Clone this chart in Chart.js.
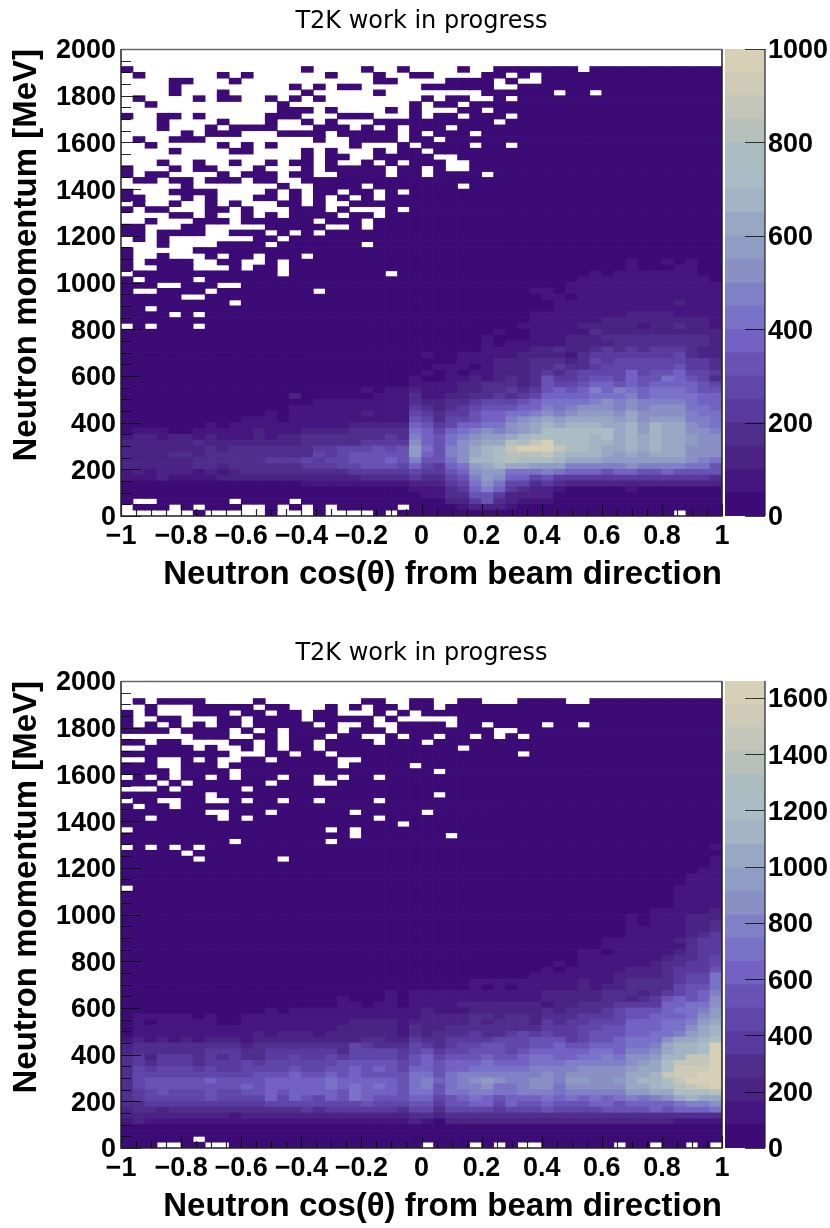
<!DOCTYPE html>
<html><head><meta charset="utf-8">
<script src="https://cdn.jsdelivr.net/npm/chart.js@4"></script>
<style>
html,body{margin:0;padding:0;background:#fff;overflow:hidden;width:830px;height:1228px}
canvas{position:absolute}
#p1{left:0;top:0}#c1{left:725px;top:0}
#p2{left:0;top:632px}#c2{left:725px;top:632px}
</style></head><body>
<canvas id="p1" width="850" height="596" style="width:850px;height:596px"></canvas>
<canvas id="c1" width="105" height="596" style="width:105px;height:596px"></canvas>
<canvas id="p2" width="850" height="596" style="width:850px;height:596px"></canvas>
<canvas id="c2" width="105" height="596" style="width:105px;height:596px"></canvas>
<script>
const xTickValues=[-1,-0.8,-0.6,-0.4,-0.2,0,0.2,0.4,0.6,0.8,1];
const xTickLabels=["\u22121","\u22120.8","\u22120.6","\u22120.4","\u22120.2","0","0.2","0.4","0.6","0.8","1"];
const yTickValues=[0,200,400,600,800,1000,1200,1400,1600,1800,2000];
const topZTicks=[0,200,400,600,800,1000];
const bottomZTicks=[0,200,400,600,800,1000,1200,1400,1600];
const topZMax=1000, bottomZMax=1660;
const chartTitle="T2K work in progress";
const xTitle="Neutron cos(\u03b8) from beam direction";
const yTitle="Neutron momentum [MeV]";
const palette=["#3d0b75","#461680","#4a2385","#4f2e8e","#5a3a9e","#5f46a8","#6853b4","#7362c3","#7a72c8","#8080c6","#8a90c4","#8f9cc3","#98a8c4","#a4b4c4","#aabcc6","#acbdc2","#b8c0bc","#c4c6ba","#cdcab8","#d8d0b6"];
// Each row lists 50 cos(theta) bins, highest momentum bin first. "." = empty bin, 0-9 a-j = colour contour reached.
const topRows=[
"..... ..... ..... ..... ..... ..... ..... ..... ..... .....",
"..... ..... ..... ..... ..... ..... ..... ..... ..... .....",
"..... ..... ..... ..... ..... ..... ..... ..... ..... .....",
"0.... ..... ..... 0.... 0..0. ...0. .0000 000.0 00000 00000",
".0... ...0. 0.... ..0.. .0..0 0.... 00.0. 00000 00000 00000",
"....0 0...0 ..... ..... .00.. ..000 0.0.. 00000 00000 00000",
"....0 ..... ....0 .0.00 ..... 00000 0..00 00000 00000 00000",
"....0 ...0. ..... 0.... .0... ..... 00000 0.00. 00000 00000",
".0... .0.00 ..0.0 .0... ..... 0.00. .0.00 00000 00000 00000",
"..0.. ..... ...0. ..... ....0 .00.0 00000 00000 00000 00000",
"..... ..... ...00 0.0.. ..0.0 ...00 .0000 00000 00000 00000",
"0..00 .0... ..000 ...00 0...0 .00.0 00.00 00000 00000 00000",
"...0. ...0. ..0.. 0.0.. .0000 00000 0.000 00000 00000 00000",
"...0. ..0.0 000.. .000. 0.0.0 00.00 00000 00000 00000 00000",
"..... 0.000 ...00 00.00 000.0 .000. 00000 00000 00000 00000",
".0..0 00... ..... .0..0 000.0 0.000 00000 00000 00000 00000",
"..0.. ...0. 0.0.. ....0 ...0. 0000. 00.00 00000 00000 00000",
"....0 ....0 0.... 0.0.. .0.00 .0000 00000 00000 00000 00000",
"..... ..... ..... 0.00. .0000 0..00 00000 00000 00000 00000",
"...0. .0..0 ..0.0 0.0.. 0.0.0 00..0 00000 00000 00000 00000",
"0...0 .00.. .0... 0.000 00.00 .0..0 00000 00000 00000 00000",
"0.00. ...0. 000.0 0..00 00.00 .0000 .0000 00000 00000 00000",
".00.0 0.000 .00.. 00000 00000 00000 00000 00000 00000 00000",
"..... 0.... ...0. .0000 .0000 000.0 00000 00000 00000 00000",
"0...0 000.. ..0.0 .00.0 0.0.0 00000 00000 00000 00000 00000",
"00... 0.0.. .00.0 .0.0. 0.000 00000 00000 00000 00000 00000",
".0..0 ..0.0 ...00 .0..0 00000 00000 00000 00000 00000 00000",
"0.00. ..00. 0...0 00.0. ..0.0 00000 00000 00000 00000 00000",
"....0 0.0.. 0.0.0 000.0 0.000 00000 00000 00000 00000 00000",
"..0.. .000. 00000 0.000 .0000 00000 00000 00000 00000 00000",
"00... 00... ..000 00..0 .0000 00000 00000 00000 00000 00000",
"00.00 00..0 00.0. 0.000 00000 00000 00000 00000 00000 00000",
".0.0. ..... .00.0 00000 00000 00000 00000 00000 00000 00000",
"...0. ...00 00.00 00000 .0000 00000 00000 00000 00000 00000",
"0.... .0000 00000 00000 00000 00000 00000 00000 00000 00000",
"0..0. ..0.0 0.000 .0000 00000 00000 00000 00000 00000 00000",
"0.000 0..00 ..0.0 00000 00000 00000 00000 00000 00100 10100",
"0..00 0...0 .00.0 00000 00000 00000 00000 00000 00100 01100",
".0000 00000 000.0 00000 00.00 00000 00000 00001 01111 11100",
"0.000 0.000 00000 00000 00000 00000 00000 00011 11111 11110",
"000.. 000.. 00000 00000 00000 00000 00000 00111 11111 11111",
"0..00 00.00 00000 0.000 00000 00000 00001 10111 11111 11111",
"00000 ..000 00000 00000 00000 00000 00000 11011 11111 11111",
"00000 0000. 00000 00000 00000 00000 00000 01111 11111 12111",
"00.00 00000 00000 00000 00000 00000 00000 01111 11111 11111",
"0000. 0.000 00000 00000 00000 00000 00001 11111 11222 21111",
"00000 00000 00000 00000 00000 00000 00001 11111 22222 22221",
".0.00 0.000 00000 00000 00000 00000 00011 11122 22212 23221",
"00000 00000 00000 00000 00000 00000 01001 11113 22222 22222",
"00000 00000 00000 00000 00000 00000 10001 11222 33333 33332",
"00000 00000 00000 00000 00000 00000 10111 11222 23333 33332",
"00000 00000 00000 00000 00000 00000 11112 23223 43434 44322",
"00000 00000 00000 00000 00000 10011 11122 22134 44444 45322",
"00000 00000 00000 00000 00000 00011 12223 33235 45555 55443",
"00000 00000 00000 00000 00000 01110 12223 34334 55555 56443",
"00000 00000 00000 00000 00000 10101 12223 43455 55756 67554",
"00000 00000 00000 00000 00001 00112 12323 64456 65766 87653",
"00000 00000 00000 00000 00001 11122 33323 65567 76767 77765",
"00000 00000 00000 00000 10112 11122 33434 67679 79878 88766",
"00000 00000 00002 00000 01113 11223 34345 77778 88978 88877",
"00000 00000 00000 01111 11113 22334 55567 88889 a9a99 99877",
"00000 00000 00001 11111 11114 32345 66677 989aa a9a9a aa887",
"00000 00000 00101 11111 21115 43446 77889 a9abb bacaa aa988",
"00000 00000 11101 11111 11116 53556 779ab cbccc cbcab bb998",
"00000 00101 11111 11112 22227 64577 88abc dcddd ccdbd cca98",
"01110 01111 12111 22223 33338 75789 a9abc fefef ecdbd ccaa9",
"12212 21211 12122 33333 33439 7689a bbcde feeed ecdcd ccbaa",
"22222 23222 22222 33333 4444a 768ab ccgfh jfffd dcdcd ccbaa",
"22222 22323 33333 34455 5656b 869ac dehjj jhfed ccdcd ccaaa",
"22223 32333 33333 35456 6666b 769ac deggg heddd cbcbc ccaaa",
"22222 23333 33444 54556 66769 668ad dfgff fdccc bbbbb bba98",
"22222 23323 33333 44455 66657 5478b cdccb bb999 99a99 99886",
"12122 21212 33333 33334 44445 4467a bb888 98777 67766 76666",
"11121 11122 22222 22222 33334 33569 ba775 64444 44444 44443",
"00000 00000 00000 11111 11112 22458 a8553 43222 22222 22222",
"00000 00000 00000 00000 00001 11347 97432 21000 00100 00000",
"00000 00000 00000 00000 00000 11336 64222 20000 00000 00000",
"0..00 0000. 0000. 00000 00000 00224 63211 10000 00000 00000",
".000. 0.000 ..0.0 .0.00 000.0 00012 22100 00000 00000 00000",
"..... .0... ..0.. .0... .0.00 00000 00000 00000 00000 0.000"
];
const bottomRows=[
"..... ..... ..... ..... ..... ..... ..... ..... ..... .....",
"..... ..... ..... ..... ..... ..... ..... ..... ..... .....",
"..... ..... ..... ..... ..... ..... ..... ..... ..... .....",
".0.00 00... .0... ..... 00..0 0..00 ...00 00..0 00000 00000",
"..0.. .0000 0.00. ..0.0 .00.0 0.000 00000 00000 00000 00000",
"0.0.. .000. 00.00 .00.. .0.0. 00000 00000 00000 00000 00000",
"0..00 ...00 .0000 .0000 0.0.. ...00 00000 00000 00000 00000",
"0.0.0 .0.00 .0000 0.0.. 0..00 00.00 .0000 .00.0 00000 00000",
"0000. 0000. 0.0.0 000.0 00.00 00000 0..00 00000 00000 00000",
"..... .000. .00.0 00.00 ..0.0 0.00. 0.0.0 00000 00000 00000",
"00.00 ....0 0.0.0 0.000 0.000 .0000 00000 00000 00000 00000",
"..000 0.0.. 0.0.0 0.000 00000 000.0 00000 00000 00000 00000",
"00000 0000. ..00. 00.00 00000 00000 000.0 00000 00000 00000",
"..0.. 0.0.. 00.00 000.. 00000 00000 00000 00000 00000 00000",
"000.. 000.0 00000 000.0 0000. 00000 00000 00000 00000 00000",
"0000. 0000. 00000 00000 00000 0.000 00000 00000 00000 00000",
".0.0. 00.0. 000.0 0.0.0 0.000 00000 00000 00000 00000 00000",
"000.0 .0000 00.00 0..00 00000 00000 00000 00000 00000 00000",
"...0. 00000 .0000 00000 00000 00000 00000 00000 00000 00000",
"00000 00.00 00000 00000 00000 0.000 00000 00000 00000 00000",
".00.. 00..0 .00.0 0.000 0.000 00000 00000 00000 00000 00000",
"0.00. 00000 00000 00000 00000 00000 00000 00000 00000 00000",
"00000 00..0 00.00 0000. 00000 .0000 00000 00000 00000 00000",
"00.00 000.0 .0000 00000 0.000 00000 00000 00000 00000 00000",
"00000 00000 00000 00000 000.0 00000 00000 00000 00000 00000",
".0000 00000 00000 00.0. 00000 00000 00000 00000 00000 00000",
"00000 00000 00000 0000. 00000 00.00 00000 00000 00000 00000",
"00000 0000. 00000 00.00 00000 00000 00000 00000 00000 00000",
".0.0. 0.000 00000 00000 00000 00000 00000 00000 00000 00001",
"00000 .0000 00000 00000 00000 00000 00000 00000 00000 00000",
"00000 0.000 000.0 00000 00000 00000 00000 00000 00000 00001",
"00000 00000 00000 00000 00000 00000 00000 00000 00000 00001",
"00000 00000 00000 00000 00000 00000 00000 00000 00000 00011",
"00000 00000 00000 00000 00000 00000 00000 00000 00000 00111",
"00000 00000 00000 00000 00000 00000 00000 00000 00000 00111",
".0000 00000 00000 00000 00000 00000 00000 00000 00000 01111",
"00000 00000 00000 00000 00000 00000 00000 00000 00000 01111",
"00000 00000 00000 00000 00000 00000 00000 00000 00000 01111",
"00000 00000 00000 00000 00000 00000 00000 00000 00000 01111",
"00000 00000 00000 00000 00000 00000 00000 00000 00001 11112",
"00000 00000 00000 00000 00000 00000 00000 00000 00101 11222",
"00000 00000 00000 00000 00000 00000 00000 00000 00101 11223",
"00000 00000 00000 00000 00000 00000 00000 00000 00111 11223",
"00000 00000 00000 00000 00000 00000 00000 00000 00111 11234",
"00000 00000 00000 00000 00000 00000 00000 00000 11111 12344",
"00000 00000 00000 00000 00000 00000 00000 00000 11111 11344",
"00000 00000 00000 00000 00000 00000 00000 00011 01111 12344",
"00000 00000 00000 00000 00000 00000 00000 00011 11111 23345",
"00000 00000 00000 00000 00000 00000 00000 01011 11112 33445",
"00000 00000 00000 00000 00000 00000 00000 10111 11222 34446",
"00000 00000 00000 00000 00000 00000 00001 11111 12222 34558",
"00000 00000 00000 00000 00000 00001 11111 11121 12333 34558",
"00000 00000 00000 00000 00000 00001 01011 11121 22333 35668",
"00000 00000 00000 00000 00101 11111 11111 22222 33323 45679",
"00000 00000 00000 00010 00101 11111 11111 22222 33234 6767a",
"00000 00000 00000 00011 01101 11122 22222 12233 34444 7788a",
"00000 00000 00101 11111 11111 21112 22222 32333 45666 7889b",
"01111 10100 11111 11111 11111 22223 32332 33344 45667 778ab",
"01011 11100 11111 11112 22212 22223 23332 43445 55777 889bc",
"01111 11111 11111 11122 22213 22333 33333 44455 66777 88acd",
"01111 11111 12122 21222 22213 23334 33454 54456 66778 89bcd",
"12121 21222 12222 22222 33224 33444 45556 66456 67888 accdf",
"23333 33333 23333 33335 43335 43455 66556 67667 77889 cddej",
"23333 33444 33444 44435 55545 64556 66567 77778 8799a cddej",
"34244 43434 33445 44545 55546 75666 76678 87788 98aab ddhhj",
"34344 43444 54555 55566 66656 76777 87778 88999 99abc ehhhj",
"35455 54544 55556 55667 67657 76778 88889 999aa aabcc eiiij",
"35555 55555 56667 66767 66668 86899 99999 a9aaa aaccd hiijj",
"35666 66766 66777 77877 77768 9789a ba99a a9bba abcdd fhjjj",
"35666 66666 76777 77878 78768 96899 a889a a8aaa aaccd eghij",
"34565 55655 66767 77768 77768 86889 98899 98999 99bbc ceffg",
"34555 55655 55757 65768 76667 75678 76777 87878 78989 acdcc",
"33444 44444 44555 55555 65556 64667 75766 76667 76777 7899a",
"23323 33333 33333 43444 44435 53555 54555 65555 66667 67778",
"22222 22221 22222 22222 22223 32333 33333 33333 33333 33333",
"12111 11111 11111 11111 11112 10222 22222 22222 22222 21111",
"00000 00000 00000 00000 00000 00000 00000 00000 00000 00000",
"00000 00000 00000 00000 00000 00000 00000 00000 00000 00000",
"00000 0.000 00000 00000 00000 00000 00000 00000 00000 00000",
"000.. 00..0 00000 00000 00000 .000. 0.0.. 00000 0.00. 00.0."
];
[topRows,bottomRows].forEach((rows,k)=>{
  if(rows.length!==80) throw new Error("panel "+k+" has "+rows.length+" rows");
  rows.forEach((r,i)=>{ if(r.replace(/ /g,"").length!==50) throw new Error("panel "+k+" row "+i+" bad length"); });
});
const NBX=50, BIN_MEV=25;
const binCentres=Array.from({length:NBX},(_,i)=>-1+(i+0.5)*2/NBX);
const LEVELS="0123456789abcdefghij";
const tickFont={family:"'Liberation Sans'",weight:"bold",size:27};
const axisTitleFont={family:"'Liberation Sans'",weight:"bold",size:33,lineHeight:1.2};
const frameColor="#222";

function inwardTicks(){return {
  id:"frameAndTicks",
  afterDatasetsDraw(chart){
    const {ctx,chartArea:a,scales:{x,y}}=chart;
    ctx.save();
    ctx.strokeStyle="rgba(0,0,0,.85)";ctx.lineWidth=1.2;
    ctx.beginPath();
    for(let i=0;i<=40;i++){const p=Math.round(x.getPixelForValue(-1+i*0.05))+.5;const L=i%4===0?12:7;ctx.moveTo(p,a.bottom);ctx.lineTo(p,a.bottom-L);}
    for(let i=0;i<=40;i++){const p=Math.round(y.getPixelForValue(i*50))+.5;const L=i%4===0?20:10;ctx.moveTo(a.left,p);ctx.lineTo(a.left+L,p);}
    ctx.stroke();
    ctx.lineWidth=1.5;ctx.strokeStyle=frameColor;
    ctx.beginPath();ctx.moveTo(a.left,a.top);ctx.lineTo(a.left,a.bottom);ctx.lineTo(a.right,a.bottom);ctx.lineTo(a.right,a.top);ctx.stroke();
    ctx.strokeStyle="#666";ctx.beginPath();ctx.moveTo(a.left,a.top+.5);ctx.lineTo(a.right,a.top+.5);ctx.stroke();
    ctx.restore();
  }};}

function drawPanel(id,rows){
  const datasets=[];
  for(let r=rows.length-1;r>=0;r--){
    const cells=rows[r].replace(/ /g,"");
    datasets.push({
      stack:"m",
      data:binCentres.map(()=>BIN_MEV),
      backgroundColor:[...cells].map(c=>c==="."?"rgba(255,255,255,0)":palette[LEVELS.indexOf(c)]),
      borderWidth:0,barPercentage:1,categoryPercentage:1,inflateAmount:0.35
    });
  }
  new Chart(document.getElementById(id),{
    type:"bar",
    data:{labels:binCentres,datasets},
    options:{
      responsive:false,animation:false,events:[],
      layout:{padding:{left:0,right:128,top:0,bottom:0}},
      plugins:{legend:{display:false},tooltip:{enabled:false},
        title:{display:true,fullSize:false,text:chartTitle,color:"#000",padding:{top:7,bottom:13.2},
          font:{family:"'DejaVu Sans'",size:24,weight:"normal",lineHeight:1.2}}},
      scales:{
        x:{type:"linear",stacked:true,offset:false,min:-1,max:1,
          afterBuildTicks:s=>{s.ticks=xTickValues.map(v=>({value:v}));},
          afterFit:s=>{s.height=80;},
          grid:{display:false,drawTicks:false},border:{display:false},
          ticks:{color:"#000",font:tickFont,padding:4,autoSkip:false,maxRotation:0,
            callback:(v,i)=>xTickLabels[i]},
          title:{display:true,text:xTitle,align:"end",color:"#000",
            font:axisTitleFont,padding:{top:0,bottom:1}}},
        y:{type:"linear",stacked:true,min:0,max:2000,
          afterBuildTicks:s=>{s.ticks=yTickValues.map(v=>({value:v}));},
          afterFit:s=>{s.width=121;},
          grid:{display:false,drawTicks:false},border:{display:false},
          ticks:{color:"#000",font:tickFont,padding:5,labelOffset:2,autoSkip:false,callback:v=>String(v)},
          title:{display:true,text:yTitle,align:"end",color:"#000",
            font:axisTitleFont,padding:{top:7,bottom:0}}}
      }
    },
    plugins:[inwardTicks()]
  });
}

function drawBar(id,zMax,zTicks){
  const step=zMax/palette.length;
  new Chart(document.getElementById(id),{
    type:"bar",
    data:{labels:["z"],datasets:palette.map(c=>({stack:"z",data:[step],backgroundColor:c,borderWidth:0,barPercentage:1,categoryPercentage:1,inflateAmount:0.35}))},
    options:{
      responsive:false,animation:false,events:[],
      layout:{padding:{top:49,bottom:80,left:0,right:0}},
      plugins:{legend:{display:false},tooltip:{enabled:false},title:{display:false}},
      scales:{
        x:{display:false,stacked:true},
        y:{position:"right",stacked:true,min:0,max:zMax,
          afterBuildTicks:s=>{s.ticks=zTicks.map(v=>({value:v}));},
          afterFit:s=>{s.width=65;},
          grid:{display:false,drawTicks:false},border:{display:false},
          ticks:{color:"#000",font:tickFont,padding:3,labelOffset:2,autoSkip:false,callback:v=>String(v)}}
      }
    },
    plugins:[{id:"barTicks",afterDatasetsDraw(chart){
      const {ctx,chartArea:a,scales:{y}}=chart;
      ctx.save();ctx.strokeStyle="rgba(0,0,0,.75)";ctx.lineWidth=1.2;ctx.beginPath();
      zTicks.forEach(v=>{const p=Math.round(y.getPixelForValue(v))+.5;ctx.moveTo(a.right,p);ctx.lineTo(a.right-20,p);});
      ctx.stroke();
      ctx.strokeStyle=frameColor;ctx.lineWidth=1.2;ctx.beginPath();ctx.moveTo(a.right,a.top);ctx.lineTo(a.right,a.bottom);ctx.stroke();
      ctx.restore();
    }}]
  });
}
drawPanel("p1",topRows);
drawBar("c1",topZMax,topZTicks);
drawPanel("p2",bottomRows);
drawBar("c2",bottomZMax,bottomZTicks);
</script>
</body></html>
